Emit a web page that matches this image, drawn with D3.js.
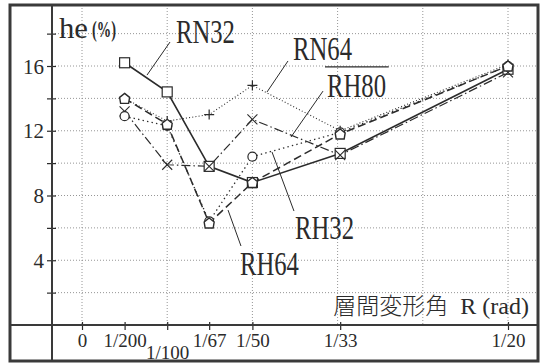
<!DOCTYPE html>
<html>
<head>
<meta charset="utf-8">
<script src="https://cdn.jsdelivr.net/npm/d3@7"></script>
<style>
  html, body { margin: 0; padding: 0; background: #fff; }
  svg { display: block; }
</style>
</head>
<body>
<svg id="chart" width="544" height="364"></svg>
<script>
// Story drift angle R (rad) at each measurement step
const driftR = [1/200, 1/100, 1/67, 1/50, 1/33, 1/20];
const driftLabels = ["1/200", "1/100", "1/67", "1/50", "1/33", "1/20"];

// Equivalent damping ratio he (%) per specimen
const rn32 = [16.2, 14.4, 9.8, 8.8, 10.6, 15.8];
const rn64 = [14.0, 12.6, 13.0, 14.8, 12.0, 16.1];
const rh80 = [13.2, 9.9, 9.8, 12.7, 10.5, 15.6];
const rh32 = [12.9, 12.3, 6.4, 10.4, 11.9, 16.0];
const rh64 = [14.0, 12.4, 6.3, 8.8, 11.8, 16.0];

const yTickValues = [2, 4, 6, 8, 10, 12, 14, 16, 18];
const yTickLabels = [4, 8, 12, 16];
const xGridValues = [0, 0.01, 0.02, 0.03, 0.04, 0.05];

const series = [
  { name: "RN32", values: rn32, marker: "square",   dash: null,       width: 1.6,
    label: [0.01103, 17.42], leader: [[0.01033, 17.48], [0.00763, 15.44]] },
  { name: "RN64", values: rn64, marker: "plus",     dash: "1,2.2",    width: 1.1,
    label: [0.02477, 16.37], leader: [[0.02418, 16.31], [0.02171, 14.39]] },
  { name: "RH80", values: rh80, marker: "cross",    dash: "9,3,1.5,3", width: 1.2,
    label: [0.02876, 14.08], leader: [[0.02829, 14.45], [0.02453, 11.61]] },
  { name: "RH32", values: rh32, marker: "circle",   dash: "1.4,3.2",  width: 1.3,
    label: [0.0250, 5.31],  leader: [[0.0223, 10.69], [0.02488, 7.04]] },
  { name: "RH64", values: rh64, marker: "pentagon", dash: "8,4",      width: 1.5,
    label: [0.01854, 3.09], leader: [[0.01714, 7.10], [0.01866, 4.88]] }
];

const ink = "#2b2b2b";
const svg = d3.select("#chart");

const x = d3.scaleLinear().domain([0, 0.05]).range([82, 508]);
const y = d3.scaleLinear().domain([0, 16]).range([325, 66]);

const frame = { left: 10, right: 538, top: 5, bottom: 361, axisX: 52, axisY: 325 };

// Dotted grid
const grid = svg.append("g").attr("stroke", "#8a8a8a").attr("stroke-width", 0.9)
  .attr("stroke-dasharray", "1,2");
grid.selectAll("line.h").data(yTickValues).join("line")
  .attr("x1", frame.axisX).attr("x2", frame.right)
  .attr("y1", d => y(d)).attr("y2", d => y(d));
grid.selectAll("line.v").data(xGridValues).join("line")
  .attr("x1", d => x(d)).attr("x2", d => x(d))
  .attr("y1", frame.top).attr("y2", frame.axisY);

// Y axis with ticks every 2 %, labels every 4 %
const yAxis = d3.axisLeft(y).tickValues(yTickValues).tickSize(0)
  .tickFormat(d => yTickLabels.includes(d) ? d : "");
const gy = svg.append("g").attr("transform", `translate(${frame.axisX},0)`).call(yAxis);
gy.select(".domain").remove();
gy.selectAll(".tick text").attr("x", -8).attr("dy", "0.34em")
  .attr("font-family", "Liberation Serif, serif").attr("font-size", 21).attr("fill", ink);
gy.selectAll(".tick").append("line").attr("x1", -5).attr("x2", 4)
  .attr("stroke", ink).attr("stroke-width", 1.2);

// X axis: drift angle labels under the baseline (1/100 dropped to a second row)
const xAxis = d3.axisBottom(x).tickValues([0].concat(driftR)).tickSize(0)
  .tickFormat((d, i) => i === 0 ? "0" : driftLabels[i - 1]);
const gx = svg.append("g").attr("transform", `translate(0,${frame.axisY})`).call(xAxis);
gx.select(".domain").remove();
gx.selectAll(".tick text")
  .attr("y", (d, i) => i === 2 ? 21 : 9)
  .attr("dy", "0.71em")
  .attr("font-family", "Liberation Serif, serif").attr("font-size", 19).attr("fill", ink);
gx.selectAll(".tick").append("line").attr("y1", -3).attr("y2", 5)
  .attr("stroke", ink).attr("stroke-width", 1.2);

// Table-like frame
svg.append("rect")
  .attr("x", frame.left).attr("y", frame.top)
  .attr("width", frame.right - frame.left).attr("height", frame.bottom - frame.top)
  .attr("fill", "none").attr("stroke", "#3a3a3a").attr("stroke-width", 3);
svg.append("line").attr("x1", frame.axisX).attr("x2", frame.axisX)
  .attr("y1", frame.top).attr("y2", frame.bottom)
  .attr("stroke", "#3a3a3a").attr("stroke-width", 2);
svg.append("line").attr("x1", frame.left).attr("x2", frame.right)
  .attr("y1", frame.axisY).attr("y2", frame.axisY)
  .attr("stroke", "#3a3a3a").attr("stroke-width", 2);

// Series lines
const line = d3.line().x((d, i) => x(driftR[i])).y(d => y(d));
svg.append("g").selectAll("path").data(series).join("path")
  .attr("d", s => line(s.values))
  .attr("fill", "none").attr("stroke", ink)
  .attr("stroke-width", s => s.width)
  .attr("stroke-dasharray", s => s.dash);

// Markers
function drawMarker(g, type) {
  if (type === "square") {
    g.append("rect").attr("x", -5).attr("y", -5).attr("width", 10).attr("height", 10)
      .attr("fill", "#fff").attr("stroke", ink).attr("stroke-width", 1.2);
  } else if (type === "circle") {
    g.append("circle").attr("r", 4.5).attr("fill", "#fff").attr("stroke", ink).attr("stroke-width", 1.2);
  } else if (type === "pentagon") {
    g.append("path").attr("d", "M0,-5 L5,-1 L4,5 L-4,5 L-5,-1 Z")
      .attr("fill", "#fff").attr("stroke", ink).attr("stroke-width", 1.4);
  } else if (type === "plus") {
    g.append("path").attr("d", "M-5,0 H5 M0,-5 V5").attr("stroke", ink).attr("stroke-width", 1.2);
  } else if (type === "cross") {
    g.append("path").attr("d", "M-5,-5 L5,5 M-5,5 L5,-5").attr("stroke", ink).attr("stroke-width", 1.1);
  }
}
series.forEach(s => {
  svg.append("g").selectAll("g").data(s.values).join("g")
    .attr("transform", (d, i) => `translate(${x(driftR[i])},${y(d)})`)
    .each(function () { drawMarker(d3.select(this), s.marker); });
});

// Series name labels with leader lines
series.forEach(s => {
  svg.append("line")
    .attr("x1", x(s.leader[0][0])).attr("y1", y(s.leader[0][1]))
    .attr("x2", x(s.leader[1][0])).attr("y2", y(s.leader[1][1]))
    .attr("stroke", ink).attr("stroke-width", 1);
  svg.append("text")
    .attr("x", x(s.label[0])).attr("y", y(s.label[1]))
    .attr("font-family", "Liberation Serif, serif").attr("font-size", 33)
    .attr("textLength", 59).attr("lengthAdjust", "spacingAndGlyphs")
    .attr("fill", ink).text(s.name);
});
// rule above the RH80 label
svg.append("line")
  .attr("x1", x(0.02852)).attr("x2", x(0.0360))
  .attr("y1", y(15.94)).attr("y2", y(15.94))
  .attr("stroke", ink).attr("stroke-width", 1.2);

// Y axis title: "he" followed by a condensed bold "(%)"
svg.append("text").attr("x", 59).attr("y", 38).attr("fill", ink)
  .attr("font-family", "Liberation Serif, serif").attr("font-size", 29)
  .attr("textLength", 29).attr("lengthAdjust", "spacingAndGlyphs")
  .text("he");
svg.append("text").attr("fill", ink)
  .attr("transform", "translate(92,37) scale(0.6,1)")
  .attr("font-family", "Liberation Serif, serif").attr("font-size", 24).attr("font-weight", "bold")
  .text("(%)");

// X axis title
const xt = svg.append("text").attr("x", 529).attr("y", 314).attr("text-anchor", "end")
  .attr("fill", ink).attr("font-size", 23);
xt.append("tspan").attr("font-family", "Noto Sans CJK JP, sans-serif").attr("font-weight", 300)
  .text("層間変形角");
xt.append("tspan").attr("font-family", "Liberation Serif, serif").attr("font-size", 24)
  .text("\u2002R (rad)");
</script>
</body>
</html>
